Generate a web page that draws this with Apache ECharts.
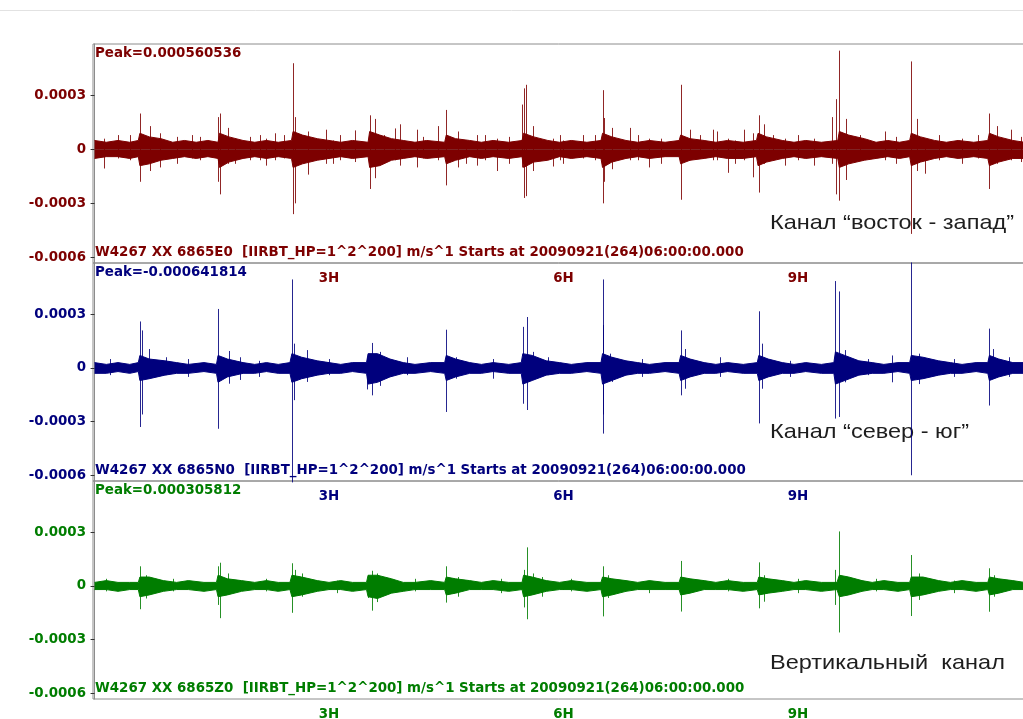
<!DOCTYPE html>
<html><head><meta charset="utf-8">
<script src="https://cdn.jsdelivr.net/npm/echarts@6/dist/echarts.min.js"></script>
<style>html,body{margin:0;padding:0;background:#fff}#c{width:1023px;height:719px}</style>
</head><body><div id="c"></div><script>
// amplitudes are in units of 1e-5 m/s, time in hours
const UNIT = 1e-5;
const xTicks = [3, 6, 9];
const xTickLabels = ['3H', '6H', '9H'];
const yTicks = [-0.0006, -0.0003, 0, 0.0003];
const colors = ['#7d0000', '#00007d', '#007d00'];
const peakLabels = ['Peak=0.000560536', 'Peak=-0.000641814', 'Peak=0.000305812'];
const infoLabels = [
  'W4267 XX 6865E0  [IIRBT_HP=1^2^200] m/s^1 Starts at 20090921(264)06:00:00.000',
  'W4267 XX 6865N0  [IIRBT_HP=1^2^200] m/s^1 Starts at 20090921(264)06:00:00.000',
  'W4267 XX 6865Z0  [IIRBT_HP=1^2^200] m/s^1 Starts at 20090921(264)06:00:00.000'
];
const channelNames = ['Канал “восток - запад”', 'Канал “север - юг”', 'Вертикальный  канал'];

// East-West channel: noise envelope [t, top, bottom] and individual spikes [t, top, bottom]
const ewEnvelope = [[0,5,-5],[0.15,4,-4],[0.3,5,-4],[0.45,4,-5],[0.56,5,-4],[0.58,9,-9],[0.7,7,-8],[0.85,6,-6],
  [1.0,4,-5],[1.15,5,-4],[1.3,4,-5],[1.45,5,-4],[1.58,4,-5],[1.6,9,-10],[1.72,7,-7],[1.9,5,-5],
  [2.05,4,-4],[2.2,5,-5],[2.35,4,-4],[2.52,5,-5],[2.54,10,-10],[2.66,8,-8],[2.85,6,-6],[3.0,5,-5],
  [3.15,4,-4],[3.3,5,-5],[3.5,4,-4],[3.52,10,-10],[3.65,8,-9],[3.8,6,-6],[3.95,5,-5],[4.1,4,-4],
  [4.25,5,-5],[4.48,4,-4],[4.5,8,-8],[4.62,6,-6],[4.8,5,-4],[4.95,4,-5],[5.1,5,-4],[5.3,4,-5],
  [5.47,5,-4],[5.49,9,-10],[5.62,7,-7],[5.8,5,-6],[5.95,4,-4],[6.1,5,-5],[6.3,4,-4],[6.48,5,-5],
  [6.5,9,-10],[6.62,7,-7],[6.8,5,-5],[6.95,4,-4],[7.1,5,-5],[7.3,4,-4],[7.48,5,-4],[7.5,8,-8],
  [7.62,6,-6],[7.8,5,-5],[7.95,4,-4],[8.1,5,-5],[8.3,4,-5],[8.47,5,-4],[8.49,9,-9],[8.6,7,-7],
  [8.8,5,-5],[8.95,4,-4],[9.1,5,-5],[9.3,4,-4],[9.51,5,-5],[9.53,10,-10],[9.65,8,-8],[9.85,6,-6],
  [10.0,4,-5],[10.15,5,-4],[10.3,4,-5],[10.43,5,-4],[10.45,9,-9],[10.57,7,-7],[10.75,5,-5],[10.9,4,-4],
  [11.05,5,-5],[11.25,4,-4],[11.43,5,-5],[11.45,9,-9],[11.57,7,-7],[11.75,5,-5],[11.9,4,-5]];
const ewSpikes = [[0.12,6,-10.6],[0.3,8,-5],[0.45,8,-6],[0.58,20,-18],[0.71,13,-12],[0.84,9,-10],
  [1.05,7,-8],[1.25,8,-5],[1.35,7,-6],[1.58,18,-18],[1.61,20,-25],[1.71,12,-8],[1.8,6,-8],[1.99,7,-6],
  [2.12,8,-6],[2.19,6,-9],[2.31,9,-6],[2.42,8,-5],[2.54,48,-36],[2.565,18,-30],[2.73,10,-14],
  [2.96,11,-8],[3.05,5,-8],[3.14,8,-6],[3.33,10.6,-7],[3.52,19,-22],[3.59,17,-16],[3.7,8,-7],
  [3.84,11.7,-6],[3.91,14,-9],[4.12,11,-10],[4.2,7,-5],[4.39,13,-6],[4.50,22,-20],[4.65,10,-10],
  [4.75,5,-8],[4.89,8,-9],[5.0,8,-6],[5.15,6,-12],[5.3,7,-8],[5.47,25,-10],[5.49,34,-27],[5.52,36,-26],
  [5.61,13,-12],[5.86,6,-9.5],[5.95,8,-6],[6.0,5,-8],[6.25,8,-5],[6.40,8,-6],[6.50,33,-30],
  [6.52,17.5,-18],[6.62,12,-11],[6.85,12,-6],[6.95,8,-6],[7.10,6,-10],[7.25,6,-8],[7.50,36,-28],
  [7.62,11,-6],[7.75,8,-5],[7.91,11,-6],[7.96,10,-6],[8.11,6,-13],[8.2,5,-8],[8.31,11,-6],
  [8.42,9,-15.5],[8.50,19,-24],[8.56,14,-8],[8.68,8,-6],[8.84,6,-9],[9.0,8,-6],[9.2,6,-9],
  [9.44,18,-8],[9.49,28,-25],[9.53,55,-28.5],[9.61,17,-17],[9.8,8,-6],[10.11,10,-6],[10.25,7,-8],
  [10.45,49,-47],[10.53,17,-12],[10.62,6,-13.5],[10.8,8,-6],[11.1,6,-8],[11.3,8,-5],[11.45,20,-22],
  [11.55,13,-8],[11.73,11,-6],[11.85,7,-7]];

// North-South channel
const nsEnvelope = [[0,3,-3],[0.15,2,-3],[0.3,3,-2],[0.45,2,-3],[0.56,3,-2],[0.58,7,-7],[0.7,5,-6],[0.9,4,-4],
  [1.05,3,-3],[1.2,2,-3],[1.4,3,-2],[1.56,2,-3],[1.58,7,-8],[1.7,5,-5],[1.9,3,-3],[2.05,2,-3],
  [2.2,3,-2],[2.35,2,-3],[2.5,3,-3],[2.525,8,-8],[2.65,6,-6],[2.85,4,-4],[3.0,3,-3],[3.15,2,-3],
  [3.3,3,-2],[3.48,3,-3],[3.5,8,-9],[3.62,8,-8],[3.78,5,-5],[3.95,3,-3],[4.1,2,-3],[4.3,3,-2],
  [4.48,3,-3],[4.5,7,-7],[4.62,5,-5],[4.8,3,-3],[4.95,2,-3],[5.1,3,-2],[5.3,2,-3],[5.46,3,-3],
  [5.48,8,-9],[5.6,7,-7],[5.78,4,-4],[5.95,3,-3],[6.1,2,-3],[6.3,3,-2],[6.48,3,-3],[6.5,8,-9],
  [6.62,6,-7],[6.8,4,-4],[6.95,3,-3],[7.1,2,-3],[7.3,3,-2],[7.48,3,-3],[7.5,7,-7],[7.62,5,-5],
  [7.8,3,-3],[7.95,2,-3],[8.1,3,-2],[8.3,2,-3],[8.48,3,-3],[8.5,7,-7],[8.62,5,-5],[8.8,3,-3],
  [8.95,2,-3],[9.1,3,-2],[9.3,2,-3],[9.46,3,-3],[9.48,9,-9],[9.6,7,-7],[9.78,4,-4],[9.95,3,-3],
  [10.1,2,-3],[10.28,3,-2],[10.43,3,-3],[10.45,7,-7],[10.6,6,-6],[10.8,4,-4],[10.95,3,-3],[11.1,2,-3],
  [11.28,3,-2],[11.43,3,-3],[11.45,7,-7],[11.57,5,-5],[11.75,3,-3],[11.9,3,-3]];
const nsSpikes = [[0.2,5,-4],[0.58,26,-33],[0.61,21,-26],[0.70,10.6,-6],[0.91,6,-4],[1.2,5,-5],
  [1.58,33,-34],[1.72,9.5,-8.8],[1.86,6,-6.7],[2.1,4,-5],[2.525,49.5,-64],[2.55,13.6,-18],
  [2.72,10,-7.8],[3.0,5,-4],[3.48,6,-12],[3.55,14,-15.3],[3.65,9,-10],[4.0,6,-4],[4.50,21.4,-24.6],
  [4.62,6,-6],[5.1,5,-6],[5.48,23,-20],[5.53,28.5,-23.5],[5.61,9,-6],[5.8,6,-4],[6.50,49.5,-36.7],
  [6.51,24,-26],[6.59,8,-6],[6.62,6,-7.8],[7.0,5,-5],[7.50,21,-15.3],[7.55,10.6,-11.6],[8.0,6,-5],
  [8.50,31.7,-31],[8.54,13.6,-11.6],[8.9,4,-5],[9.48,48.6,-28.3],[9.52,42.8,-27.4],[9.60,10,-8],
  [9.9,5,-4],[10.21,7,-8],[10.45,59,-60],[10.55,8,-9],[11.0,5,-5],[11.45,22,-21],[11.49,10.6,-6],
  [11.7,6,-5]];

// Vertical channel
const zEnvelope = [[0,2,-2],[0.15,3,-2],[0.3,2,-3],[0.45,2,-2],[0.56,2,-2],[0.58,5,-6],[0.7,5,-5],[0.88,3,-3],
  [1.05,2,-2],[1.2,3,-2],[1.4,2,-3],[1.56,2,-2],[1.58,6,-6],[1.7,4,-5],[1.88,3,-3],[2.05,2,-2],
  [2.2,3,-2],[2.35,2,-3],[2.5,2,-2],[2.525,6,-6],[2.65,5,-5],[2.85,3,-3],[3.0,2,-2],[3.15,3,-2],
  [3.3,2,-3],[3.48,2,-2],[3.5,6,-6],[3.62,6,-7],[3.8,4,-4],[3.95,2,-3],[4.1,2,-2],[4.3,3,-2],
  [4.48,2,-2],[4.5,5,-5],[4.62,4,-4],[4.8,3,-2],[4.95,2,-2],[5.1,3,-2],[5.3,2,-3],[5.47,2,-2],
  [5.49,6,-6],[5.6,5,-5],[5.78,3,-3],[5.95,2,-2],[6.1,3,-2],[6.3,2,-3],[6.48,2,-2],[6.5,5,-6],
  [6.62,4,-5],[6.8,3,-3],[6.95,2,-2],[7.1,3,-2],[7.3,2,-2],[7.48,2,-2],[7.5,5,-5],[7.62,4,-4],
  [7.8,3,-2],[7.95,2,-2],[8.1,3,-2],[8.3,2,-3],[8.48,2,-2],[8.5,5,-5],[8.62,4,-4],[8.8,3,-3],
  [8.95,2,-2],[9.1,3,-2],[9.3,2,-3],[9.5,2,-2],[9.53,6,-6],[9.65,5,-5],[9.82,3,-3],[9.95,2,-2],
  [10.1,3,-2],[10.28,2,-3],[10.43,2,-2],[10.45,5,-6],[10.6,5,-5],[10.8,3,-3],[10.95,2,-2],[11.1,3,-2],
  [11.28,2,-3],[11.43,2,-2],[11.45,5,-5],[11.57,4,-4],[11.75,3,-2],[11.9,2,-2]];
const zSpikes = [[0.15,4,-3],[0.58,11,-13],[0.66,6,-7],[1.0,4,-3],[1.58,11,-10.6],[1.60,13,-18],
  [1.71,7,-5],[2.2,4,-3],[2.525,12.7,-15],[2.56,9,-5],[2.65,7,-6],[3.1,3,-4],[3.50,6,-6.7],
  [3.55,8.5,-13.8],[3.62,7,-9],[4.1,4,-3],[4.50,11,-9.3],[4.65,5,-6],[5.2,4,-4],[5.49,9,-12],
  [5.53,21.6,-18.6],[5.61,7,-5],[5.72,5,-6],[6.1,4,-3],[6.50,11,-17],[6.57,6,-6.7],[7.1,3,-4],
  [7.50,14,-14.3],[8.1,4,-3],[8.50,13.2,-12.5],[8.56,6,-8.8],[9.0,4,-4],[9.47,9,-10.6],
  [9.53,30.5,-26],[10.0,4,-3],[10.45,17.3,-16.8],[10.55,7,-7.8],[11.0,3,-4],[11.45,9.9,-14.4],
  [11.51,6,-6]];

const envelopes = [ewEnvelope, nsEnvelope, zEnvelope];
const spikes = [ewSpikes, nsSpikes, zSpikes];

const gridTops = [44, 263, 481];
const gridH = [219, 218, 218];
const FONT = '"DejaVu Sans", Verdana, sans-serif';
const LABEL_FONT = 'bold 13.4px ' + FONT;

const grids = [], xAxes = [], yAxes = [], series = [], graphics = [];
for (let p = 0; p < 3; p++) {
  const c = colors[p];
  grids.push({left: 93, top: gridTops[p], width: 960, height: gridH[p], show: true,
    outerBoundsMode: 'none', containLabel: false,
    borderColor: '#8c8c8c', borderWidth: 1, backgroundColor: 'transparent'});
  xAxes.push({type: 'value', gridIndex: p, min: -0.02, max: 12.264,
    axisLine: {show: true, lineStyle: {color: '#8c8c8c'}},
    axisTick: {show: true, customValues: xTicks, length: 4, lineStyle: {color: '#333'}},
    axisLabel: {show: true, customValues: xTicks, margin: 9, color: c, fontFamily: FONT,
      fontWeight: 'bold', fontSize: 13.4,
      formatter: v => xTickLabels[xTicks.indexOf(Math.round(v))] || ''},
    splitLine: {show: false}});
  yAxes.push({type: 'value', gridIndex: p, min: -0.000632, max: 0.000587,
    axisLine: {show: true, lineStyle: {color: '#8c8c8c'}},
    axisTick: {show: true, customValues: yTicks, length: 4, lineStyle: {color: '#333'}},
    axisLabel: {show: true, customValues: yTicks, margin: 7, color: c, fontFamily: FONT,
      fontWeight: 'bold', fontSize: 13.4,
      formatter: v => Math.abs(v) < 1e-9 ? '0' : v.toFixed(4)},
    splitLine: {show: false}});
  [1, 2].forEach(k => {
    series.push({type: 'line', xAxisIndex: p, yAxisIndex: p, symbol: 'none', silent: true,
      data: envelopes[p].map(e => [e[0], e[k] * UNIT]),
      lineStyle: {color: c, width: 1}, areaStyle: {color: c, opacity: 1}, z: 2});
  });
  series.push({type: 'custom', xAxisIndex: p, yAxisIndex: p, silent: true, clip: false, z: 3,
    encode: {x: 0, y: [1, 2]},
    data: spikes[p].map(s => [s[0], s[1] * UNIT, s[2] * UNIT]),
    renderItem: (params, api) => {
      const a = api.coord([api.value(0), api.value(1)]);
      const b = api.coord([api.value(0), api.value(2)]);
      const x = Math.round(a[0]) + 0.5;
      return {type: 'line', shape: {x1: x, y1: a[1], x2: x, y2: b[1]},
        style: {stroke: c, lineWidth: 1, opacity: 0.85}};
    }});
  graphics.push({type: 'text', x: 95, y: gridTops[p] + 10,
    style: {text: peakLabels[p], fill: c, font: LABEL_FONT, verticalAlign: 'middle'}});
  graphics.push({type: 'text', x: 95, y: gridTops[p] + gridH[p] - 10,
    style: {text: infoLabels[p], fill: c, font: LABEL_FONT, verticalAlign: 'middle'}});
}
const nameY = [223, 432, 663];
for (let p = 0; p < 3; p++) {
  graphics.push({type: 'text', x: 770, y: nameY[p], scaleX: 1.12,
    style: {text: channelNames[p], fill: '#1e1e1e', font: '21px "Liberation Sans", Arial, sans-serif',
      verticalAlign: 'middle'}});
}
graphics.push({type: 'line', shape: {x1: 0, y1: 10.5, x2: 1023, y2: 10.5}, style: {stroke: '#e2e2e2', lineWidth: 1}});

const chart = echarts.init(document.getElementById('c'), null, {renderer: 'canvas'});
chart.setOption({backgroundColor: '#ffffff', animation: false, grid: grids,
  xAxis: xAxes, yAxis: yAxes, series: series, graphic: graphics});
</script></body></html>
